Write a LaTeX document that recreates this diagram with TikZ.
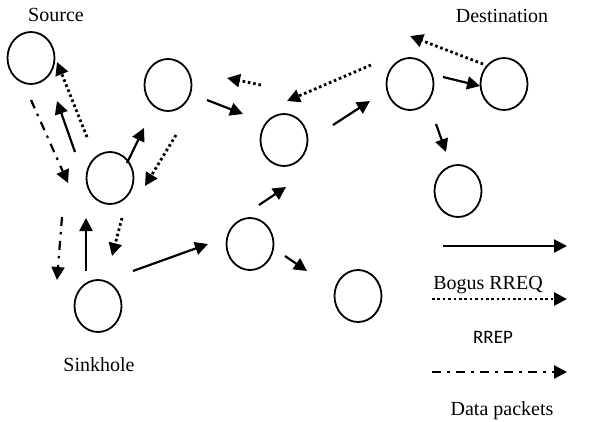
\documentclass[tikz,border=0pt]{standalone}
\usepackage{fontspec}
\setmainfont{Liberation Serif}
\newfontfamily\rrepfont{Carlito}
\usetikzlibrary{arrows.meta,shapes.geometric}
\begin{document}
\begin{tikzpicture}[x=1pt,y=-1pt,
  nodecirc/.style={draw,ellipse,line width=1.8pt,minimum width=47pt,minimum height=52pt,inner sep=0pt},
  lbl/.style={anchor=base,inner sep=0pt,font=\fontsize{20}{24}\selectfont},
  tip/.style={-{Triangle[length=13pt,width=13pt]}},
  solidarr/.style={tip,line width=2.2pt},
  dotarr/.style={tip,line width=2.8pt,dash pattern=on 2.6pt off 2.8pt},
  dasharr/.style={tip,line width=2.2pt,dash pattern=on 9pt off 6pt on 2.5pt off 6.5pt}]
\useasboundingbox (0,0) rectangle (589,421);
\fill[white] (0,0) rectangle (589,421);
% nodes
\node[nodecirc] (S) at (31,58) {};
\node[nodecirc] (N2) at (168,85) {};
\node[nodecirc] (H) at (110,178) {};
\node[nodecirc] (K) at (98,306) {};
\node[nodecirc] (C) at (284,140) {};
\node[nodecirc] (M) at (250,244) {};
\node[nodecirc] (L) at (358,296) {};
\node[nodecirc] (D1) at (410,84) {};
\node[nodecirc] (D) at (504,84) {};
\node[nodecirc] (R) at (458,191) {};
% labels
\node[lbl] (tS) at (56,21) {Source};
\node[lbl] (tD) at (502,22) {Destination};
\node[lbl] (tK) at (99,371) {Sinkhole};
\node[lbl] (tB) at (488,289) {Bogus RREQ};
\node[lbl,font=\rrepfont\fontsize{19}{23}\selectfont] (tR) at (493,343) {RREP};
\node[lbl] (tP) at (502,415) {Data packets};
% arrow endpoints
\coordinate (a1s) at (75,152); \coordinate (a1e) at (57,101);
\coordinate (a2s) at (127,163); \coordinate (a2e) at (144,128);
\coordinate (a3s) at (86,271); \coordinate (a3e) at (86,218);
\coordinate (a4s) at (133,271); \coordinate (a4e) at (208,244);
\coordinate (a5s) at (207,100); \coordinate (a5e) at (243,114);
\coordinate (a6s) at (333,125); \coordinate (a6e) at (370,101);
\coordinate (a7s) at (259,205); \coordinate (a7e) at (286,187);
\coordinate (a8s) at (285,256); \coordinate (a8e) at (307,271);
\coordinate (a9s) at (443,77); \coordinate (a9e) at (480,86);
\coordinate (a10s) at (436,124); \coordinate (a10e) at (446,152);
\coordinate (b1s) at (87,137); \coordinate (b1e) at (57,62);
\coordinate (b2s) at (176,135); \coordinate (b2e) at (145,186);
\coordinate (b3s) at (122,218); \coordinate (b3e) at (112,256);
\coordinate (b4s) at (261,85); \coordinate (b4e) at (227,78);
\coordinate (b5s) at (371,65); \coordinate (b5e) at (287,101);
\coordinate (b6s) at (483,64); \coordinate (b6e) at (410,36);
\coordinate (c1s) at (31,100); \coordinate (c1e) at (68,183);
\coordinate (c2s) at (62,217); \coordinate (c2e) at (57,280);
\coordinate (l1s) at (443,246); \coordinate (l1e) at (567,246);
\coordinate (l2s) at (432,299); \coordinate (l2e) at (567,299);
\coordinate (l3s) at (432,372); \coordinate (l3e) at (567,372);
% solid arrows
\foreach \n in {a1,a2,a3,a4,a5,a6,a7,a8,a9,a10,l1}
  \draw[solidarr] (\n s) -- (\n e);
% dotted arrows
\foreach \n in {b1,b2,b3,b4,b5,b6,l2}
  \draw[dotarr] (\n s) -- (\n e);
% dash-dot arrows
\foreach \n in {c1,c2,l3}
  \draw[dasharr] (\n s) -- (\n e);
\end{tikzpicture}
\end{document}
